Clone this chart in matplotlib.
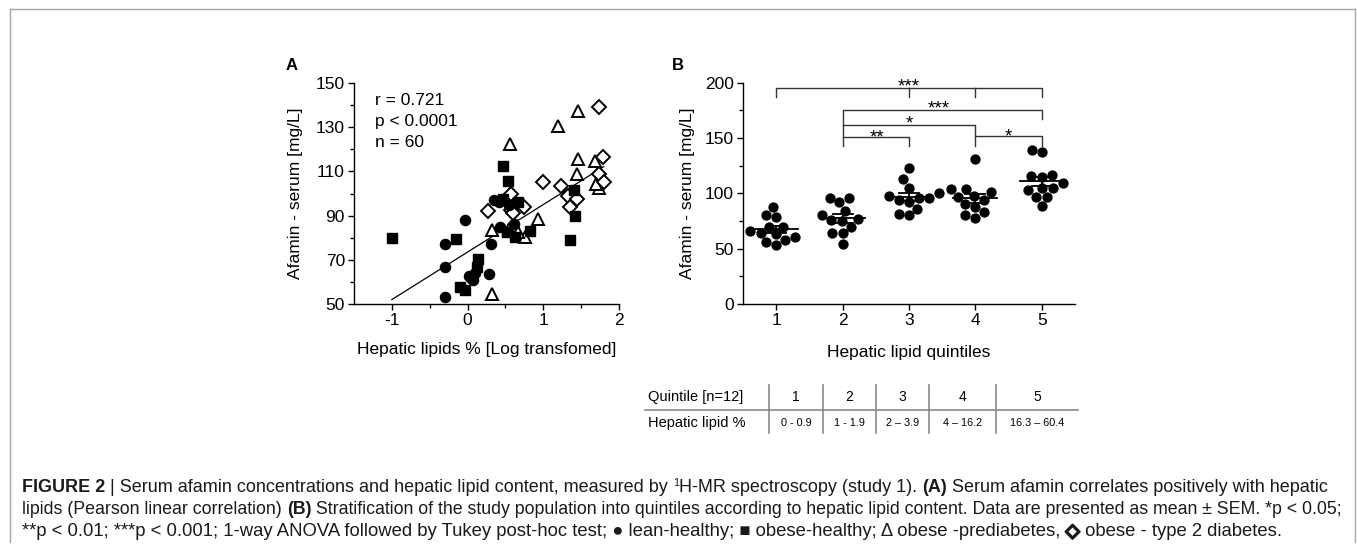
import numpy as np
import matplotlib
matplotlib.use("Agg")
import matplotlib.pyplot as plt
import matplotlib.patheffects as pe
from matplotlib.lines import Line2D

W, H, DPI = 1357, 550, 100

# ---------------- Panel A data (log hepatic lipids vs afamin) ----------------
lean_x = [-0.04, -0.30, -0.30, -0.30, 0.31, 0.28, 0.04, 0.10, 0.07, 0.35, 0.43, 0.61, 0.41, 0.02, 0.55]
lean_y = [88.0, 77.0, 66.6, 53.3, 77.0, 63.6, 61.6, 63.9, 60.8, 97.0, 85.0, 86.0, 96.2, 62.5, 95.0]
obese_x = [-1.00, -0.15, -0.10, -0.04, 0.14, 0.13, 0.47, 0.53, 0.47, 0.52, 0.62, 0.67, 0.82, 1.40, 1.42, 1.35]
obese_y = [80.0, 79.2, 57.8, 56.3, 70.2, 66.9, 112.3, 105.7, 97.7, 82.5, 80.5, 96.2, 83.1, 101.8, 89.8, 78.9]
prediab_x = [0.56, 1.20, 1.46, 1.46, 1.44, 1.68, 1.73, 1.70, 0.93, 0.32, 0.32, 0.76, 0.67, 0.55]
prediab_y = [122.6, 130.4, 137.3, 115.8, 109.0, 114.8, 102.5, 104.5, 88.3, 83.4, 54.4, 80.4, 82.7, 84.0]
t2d_x = [1.73, 1.79, 1.73, 1.80, 0.99, 1.23, 1.32, 1.35, 1.45, 0.27, 0.57, 0.58, 0.74, 0.60]
t2d_y = [139.2, 116.3, 108.6, 105.3, 105.1, 103.6, 98.8, 94.0, 97.3, 92.2, 100.0, 92.5, 94.0, 91.0]
fit_slope = 21.5
fit_intercept = 73.5
stats_lines = ["r = 0.721", "p < 0.0001", "n = 60"]

# ---------------- Panel B data (quintiles) ----------------
quintiles = [1, 2, 3, 4, 5]
q1 = [88, 79, 80, 70, 70, 63, 64, 61, 58, 53, 56, 66]
q2 = [96, 96, 92, 84, 77, 75, 80, 70, 64, 64, 54, 76]
q3 = [123, 113, 105, 96, 98, 96, 100, 92, 86, 81, 80, 94]
q4 = [131, 104, 104, 97, 98, 101, 90, 83, 80, 78, 88, 94]
q5 = [139, 137, 117, 115, 116, 105, 105, 109, 103, 97, 97, 89]
groups = [q1, q2, q3, q4, q5]
sig_labels = ["***", "***", "*", "**", "*"]

# ---------------- Table ----------------
table_row_labels = ["Quintile [n=12]", "Hepatic lipid %"]
table_header = ["1", "2", "3", "4", "5"]
table_ranges = ["0 - 0.9", "1 - 1.9", "2 \u2013 3.9", "4 \u2013 16.2", "16.3 \u2013 60.4"]

plt.rcParams['font.family'] = ['Liberation Sans', 'DejaVu Sans']
plt.rcParams['axes.unicode_minus'] = False

fig = plt.figure(figsize=(W / DPI, H / DPI), dpi=DPI)


def fx(x):
    return x / W


def fy(y):
    return 1 - y / H


def style_axes(ax):
    for s in ['top', 'right']:
        ax.spines[s].set_visible(False)
    for s in ['left', 'bottom']:
        ax.spines[s].set_linewidth(1.0)
    ax.tick_params(which='major', direction='out', length=4.5, width=1.0, labelsize=12.5, pad=2)
    ax.tick_params(which='minor', direction='out', length=3, width=1.0)


# ---------------- Panel A ----------------
axA = fig.add_axes([fx(354), fy(304), fx(619 - 354), (304 - 83) / H])
style_axes(axA)
axA.set_xlim(-1.5, 2)
axA.set_ylim(50, 150)
axA.set_xticks([-1, 0, 1, 2])
axA.set_xticks([-0.5, 0.5, 1.5], minor=True)
axA.set_yticks([50, 70, 90, 110, 130, 150])
axA.set_yticks([60, 80, 100, 120, 140], minor=True)

allx = np.array(lean_x + obese_x + prediab_x + t2d_x)
fit_x = np.array([allx.min(), allx.max()])
axA.plot(fit_x, fit_slope * fit_x + fit_intercept, color='black', lw=0.9, zorder=1)

axA.plot(lean_x, lean_y, 'o', ms=7.3, color='black', mec='black', zorder=3, clip_on=False)
axA.plot(obese_x, obese_y, 's', ms=6.7, color='black', mec='black', zorder=3, clip_on=False)
axA.plot(prediab_x, prediab_y, '^', ms=8, mfc='white', mec='black', mew=1.4, zorder=2, clip_on=False)
axA.plot(t2d_x, t2d_y, 'D', ms=6.8, mfc='white', mec='black', mew=1.4, zorder=2, clip_on=False)

for i, s in enumerate(stats_lines):
    axA.text(0.079, 0.923 - i * 0.095, s, transform=axA.transAxes, fontsize=12.5, va='center', ha='left')

axA.set_xlabel("Hepatic lipids % [Log transfomed]", fontsize=12.5, labelpad=10)
axA.set_ylabel("Afamin - serum [mg/L]", fontsize=12.5, labelpad=9)
fig.text(fx(292), fy(66), "A", fontsize=12, fontweight='bold', ha='center', va='center')

# ---------------- Panel B ----------------
axB = fig.add_axes([fx(743), fy(304), fx(1075 - 743), (304 - 82.7) / H])
style_axes(axB)
axB.set_xlim(0.5, 5.5)
axB.set_ylim(0, 200)
axB.set_xticks(quintiles)
axB.set_yticks([0, 50, 100, 150, 200])
axB.set_yticks([25, 75, 125, 175], minor=True)

px_per_x = (1075 - 743) / 5.0
px_per_y = (304 - 82.7) / 200.0


def swarm(values, d):
    vals = np.asarray(values, float)
    order = np.argsort(vals)
    placed = []
    offs = np.zeros(len(vals))
    for i in order:
        y = vals[i] * px_per_y
        cands = [0.0]
        for (px, py) in placed:
            dy = abs(py - y)
            if dy < d:
                dx = np.sqrt(d * d - dy * dy)
                cands += [px + dx, px - dx]
        cands.sort(key=lambda c: (abs(c), c))
        chosen = cands[-1]
        for c in cands:
            if all((c - px) ** 2 + (y - py) ** 2 >= d * d - 1e-6 for px, py in placed):
                chosen = c
                break
        placed.append((chosen, y))
        offs[i] = chosen / px_per_x
    return offs


for q, vals in zip(quintiles, groups):
    offs = swarm(vals, 10.5)
    axB.plot(q + offs, vals, 'o', ms=6.4, color='black', zorder=3)
    m = np.mean(vals)
    se = np.std(vals, ddof=1) / np.sqrt(len(vals))
    axB.plot([q - 0.33, q + 0.33], [m, m], color='black', lw=1.3, zorder=4)
    axB.plot([q, q], [m - se, m + se], color='black', lw=1.3, zorder=4)
    axB.plot([q - 0.15, q + 0.15], [m + se, m + se], color='black', lw=1.3, zorder=4)
    axB.plot([q - 0.15, q + 0.15], [m - se, m - se], color='black', lw=1.3, zorder=4)

bk = dict(color='#333333', lw=1.0, zorder=2, clip_on=False)
star_size = 13.5
star_lift = 0.58 * star_size / 0.72 / px_per_y  # data units from baseline to star centre


def star(x, yc, s):
    axB.text(x, yc - star_lift, s, ha='center', va='baseline', fontsize=star_size, clip_on=False)


axB.plot([1, 1, 5, 5], [187, 195, 195, 187], **bk)
axB.plot([3, 3], [195, 187], **bk)
axB.plot([4, 4], [195, 187], **bk)
star(3, 201.5, sig_labels[0])
axB.plot([2, 2, 5, 5], [143, 175, 175, 167], **bk)
star(3.45, 182, sig_labels[1])
axB.plot([2, 4, 4], [162, 162, 143], **bk)
star(3.0, 168.5, sig_labels[2])
axB.plot([2, 3, 3], [151, 151, 143], **bk)
star(2.52, 155.5, sig_labels[3])
axB.plot([4, 5, 5], [152, 152, 143], **bk)
star(4.49, 157, sig_labels[4])

axB.set_xlabel("Hepatic lipid quintiles", fontsize=12.5, labelpad=12)
axB.set_ylabel("Afamin - serum [mg/L]", fontsize=12.5, labelpad=7)
fig.text(fx(678), fy(66), "B", fontsize=12, fontweight='bold', ha='center', va='center')

# ---------------- Table ----------------
tcol = '#8a8a8a'
col_centers = [796, 849.5, 902.5, 962.5, 1037]
vlines_x = [769, 823, 876, 929, 996]
row_y = [397, 423]
for xv in vlines_x:
    fig.add_artist(Line2D([fx(xv), fx(xv)], [fy(385), fy(433)], color=tcol, lw=1.2))
fig.add_artist(Line2D([fx(645), fx(1078)], [fy(409.5), fy(409.5)], color=tcol, lw=1.2))
for lab, ry in zip(table_row_labels, row_y):
    fig.text(fx(648), fy(ry), lab, fontsize=10.5, ha='left', va='center')
for cx, h, r in zip(col_centers, table_header, table_ranges):
    fig.text(fx(cx), fy(row_y[0]), h, fontsize=10, ha='center', va='center')
    fig.text(fx(cx), fy(row_y[1]), r, fontsize=7.8, ha='center', va='center')

# ---------------- Frame ----------------
fcol = '#a6a6a6'
fig.add_artist(Line2D([fx(9.5), fx(1355)], [fy(9), fy(9)], color=fcol, lw=1.0))
fig.add_artist(Line2D([fx(9.5), fx(9.5)], [fy(9), fy(542)], color=fcol, lw=1.0))
fig.add_artist(Line2D([fx(1355), fx(1355)], [fy(9), fy(542)], color=fcol, lw=1.0))

# ---------------- Caption ----------------
renderer = fig.canvas.get_renderer()
fam = ['Liberation Sans', 'DejaVu Sans']


def seg_width(s, size, weight):
    t1 = fig.text(0, 0, "|" + s + "|", fontsize=size, fontweight=weight, family=fam)
    t2 = fig.text(0, 0, "||", fontsize=size, fontweight=weight, family=fam)
    w = t1.get_window_extent(renderer).width - t2.get_window_extent(renderer).width
    t1.remove()
    t2.remove()
    return w


# segments: (text, weight, superscript flag, thick outline flag)
cap_lines = [
    [("FIGURE 2", 'bold', 0, 0), (" | Serum afamin concentrations and hepatic lipid content, measured by ", 'normal', 0, 0),
     ("1", 'normal', 1, 0), ("H-MR spectroscopy (study 1). ", 'normal', 0, 0), ("(A)", 'bold', 0, 0),
     (" Serum afamin correlates positively with hepatic", 'normal', 0, 0)],
    [("lipids (Pearson linear correlation) ", 'normal', 0, 0), ("(B)", 'bold', 0, 0),
     (" Stratification of the study population into quintiles according to hepatic lipid content. "
      "Data are presented as mean \u00b1 SEM. *p < 0.05;", 'normal', 0, 0)],
    [("**p < 0.01; ***p < 0.001; 1-way ANOVA followed by Tukey post-hoc test; \u25cf lean-healthy; "
      "\u25a0 obese-healthy; \u0394 obese -prediabetes, ", 'normal', 0, 0), ("\u25c7", 'bold', 0, 1),
     (" obese - type 2 diabetes.", 'normal', 0, 0)],
]
line_ends = [1335, 1348, 1280]
baselines = [492.5, 514.5, 536.5]
base = 10.0
for segs, bl, xe in zip(cap_lines, baselines, line_ends):
    wb = sum(seg_width(s, base * (0.6 if sup else 1), wt) for s, wt, sup, _ in segs)
    size0 = base * (xe - 22) / wb
    x = 22.0
    for s, wt, sup, thick in segs:
        size = size0 * (0.6 if sup else 1)
        yb = bl - (6 if sup else 0)
        t = fig.text(fx(x), fy(yb), s, fontsize=size, fontweight=wt, family=fam,
                     color='#1a1a1a', ha='left', va='baseline')
        if thick:
            t.set_path_effects([pe.withStroke(linewidth=1.6, foreground='#1a1a1a')])
        x += seg_width(s, size, wt)

fig.savefig("out.png", dpi=DPI)
